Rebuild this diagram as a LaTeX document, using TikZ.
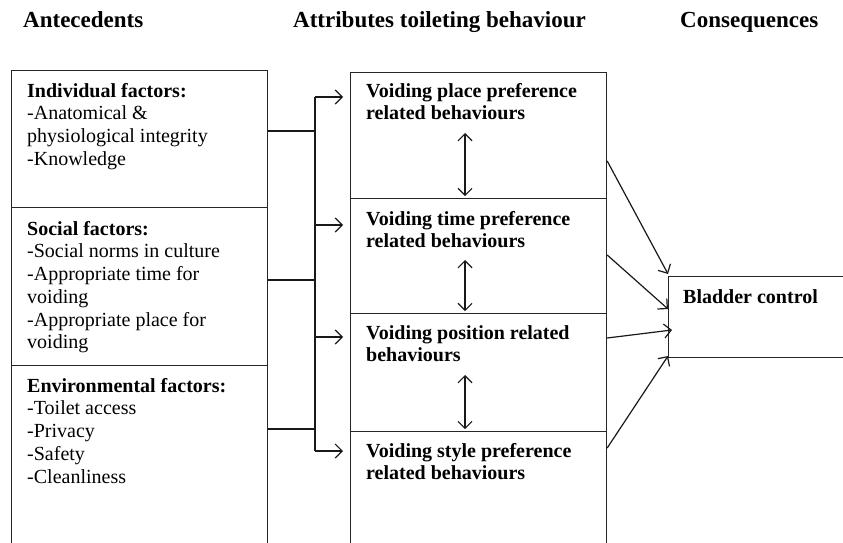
\documentclass[tikz,border=0pt]{standalone}
\usepackage{fontspec}
\setmainfont{Liberation Serif}
\usetikzlibrary{arrows.meta,positioning}

\begin{document}
\begin{tikzpicture}
[x=1pt,y=-1pt,
box/.style={draw=black!85,line width=1.2pt,anchor=north west,inner sep=0pt,minimum width=256pt},
txt/.style={anchor=north west,inner sep=0pt,align=left,font=\fontsize{20}{22.7}\selectfont},
btxt/.style={txt,font=\fontsize{20}{22.7}\selectfont\bfseries},
head/.style={anchor=base west,inner sep=0pt,font=\fontsize{23}{26}\selectfont\bfseries},
conn/.style={draw=black!90,line width=1.2pt},
arr/.style={conn,-{Straight Barb[length=7pt,width=14pt]}},
dbl/.style={conn,{Straight Barb[length=7pt,width=14pt]}-{Straight Barb[length=7pt,width=14pt]}}]
\clip (0,0) rectangle (843,543);

% column headings
\node[head] (ante) at (23,28) {Antecedents};
\node[head] (attr) at (293,28) {Attributes toileting behaviour};
\node[head] (cons) at (680,28) {Consequences};

% antecedents (first baseline 14pt below the text's top)
\node[box,minimum height=137pt] (ind) at (11,70) {};
\node[box,minimum height=158pt] (soc) at (11,207) {};
\node[box,minimum height=200pt] (env) at (11,365) {};
\node[txt] (indt) at (27,83) {\textbf{Individual factors:}\\-Anatomical \&\\physiological integrity\\-Knowledge};
\node[txt] (soct) at (27,221) {\textbf{Social factors:}\\-Social norms in culture\\-Appropriate time for\\voiding\\-Appropriate place for\\voiding};
\node[txt] (envt) at (27,378) {\textbf{Environmental factors:}\\-Toilet access\\-Privacy\\-Safety\\-Cleanliness};

% attributes
\node[box,minimum height=126pt] (place) at (350,72) {};
\node[box,minimum height=115pt] (time) at (350,198) {};
\node[box,minimum height=118pt] (posn) at (350,313) {};
\node[box,minimum height=200pt] (style) at (350,431) {};
\node[btxt] (placet) at (366,83) {Voiding place preference\\related behaviours};
\node[btxt] (timet) at (366,211) {Voiding time preference\\related behaviours};
\node[btxt] (posnt) at (366,325) {Voiding position related\\behaviours};
\node[btxt] (stylet) at (366,443) {Voiding style preference\\related behaviours};

% consequence
\node[box,minimum width=190pt,minimum height=81pt] (bl) at (668,276) {};
\node[btxt] (blt) at (683,289) {Bladder control};

% trunk from antecedents to attributes
\coordinate (t1) at (315,97);
\coordinate (t2) at (315,225);
\coordinate (t3) at (315,337);
\coordinate (t4) at (315,451);
\coordinate (j1) at (315,131);
\coordinate (j2) at (315,280);
\coordinate (j3) at (315,429);
\draw[conn] (t1) -- (t4);
\draw[conn] (ind.east |- j1) -- (j1);
\draw[conn] (soc.east |- j2) -- (j2);
\draw[conn] (env.east |- j3) -- (j3);
\draw[arr,shorten >=7pt] (t1) -- (place.west |- t1);
\draw[arr,shorten >=7pt] (t2) -- (time.west |- t2);
\draw[arr,shorten >=7pt] (t3) -- (posn.west |- t3);
\draw[arr,shorten >=7pt] (t4) -- (style.west |- t4);

% between attributes
\coordinate (d1) at (465,133);
\coordinate (d2) at (465,260);
\coordinate (d3) at (465,375);
\draw[dbl,shorten >=3pt] (d1) -- (d1 |- place.south);
\draw[dbl,shorten >=3pt] (d2) -- (d2 |- time.south);
\draw[dbl,shorten >=3pt] (d3) -- (d3 |- posn.south);

% to bladder control
\coordinate (a1) at (606,161);
\coordinate (a2) at (606,255);
\coordinate (a3) at (606,338);
\coordinate (a4) at (606,448);
\coordinate (b1) at (668,274);
\coordinate (b2) at (668,309);
\coordinate (b3) at (672,330);
\coordinate (b4) at (668,356);
\draw[arr] (place.east |- a1) -- (b1);
\draw[arr] (time.east |- a2) -- (b2);
\draw[arr] (posn.east |- a3) -- (b3);
\draw[arr] (style.east |- a4) -- (b4);
\end{tikzpicture}
\end{document}
